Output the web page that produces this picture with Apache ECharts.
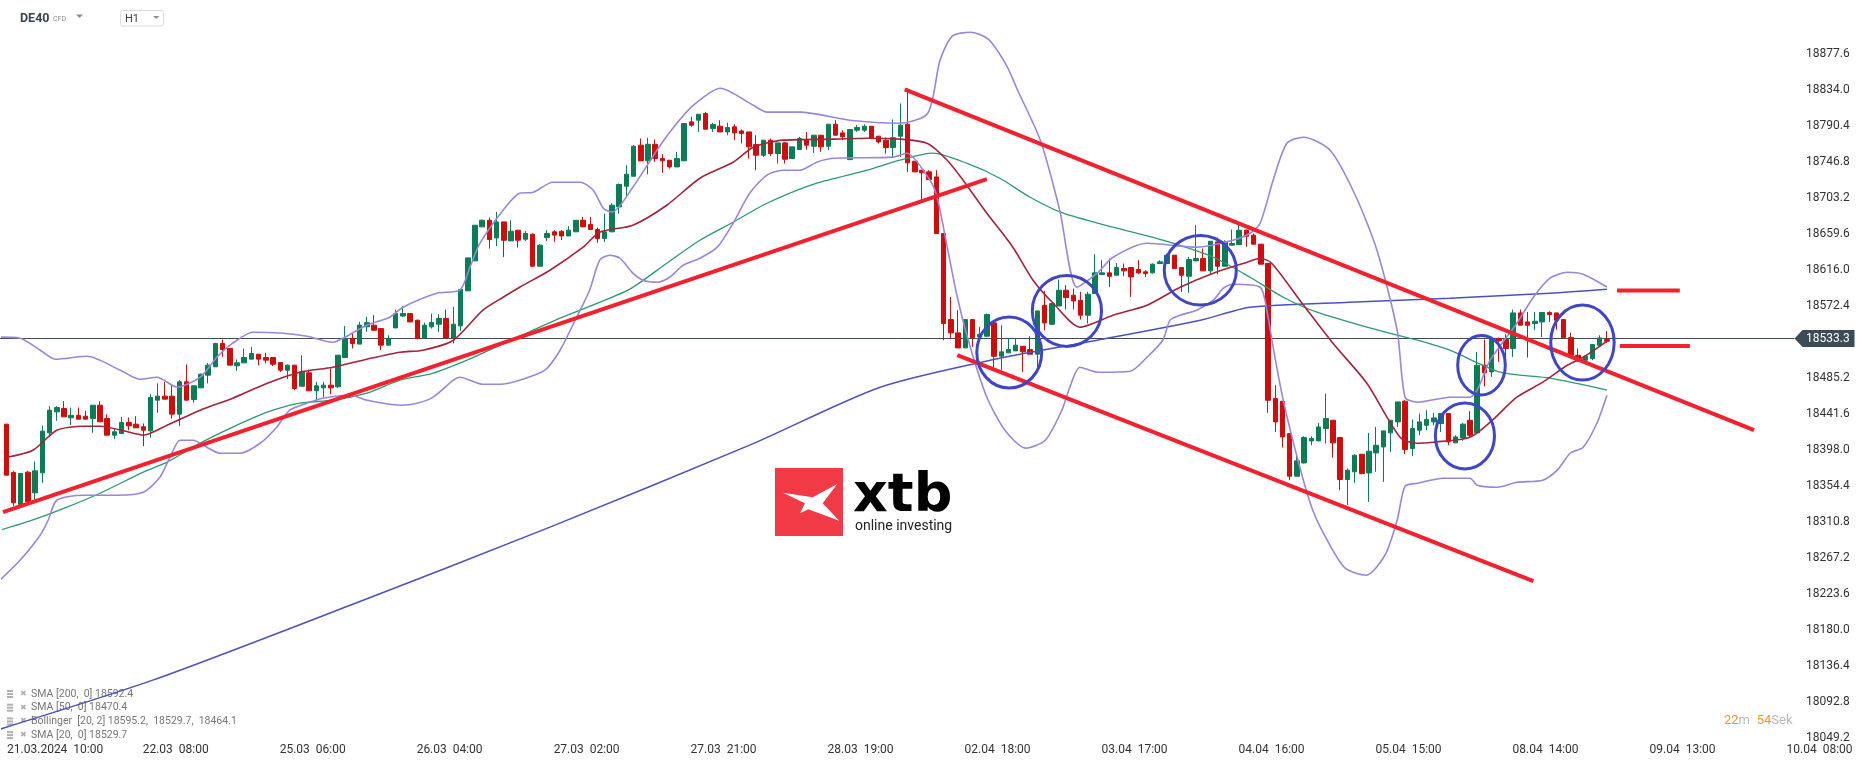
<!DOCTYPE html>
<html><head><meta charset="utf-8">
<script src="https://cdn.jsdelivr.net/npm/echarts@6/dist/echarts.min.js"></script>
<style>html,body{margin:0;padding:0;background:#fff;overflow:hidden}#c{width:1866px;height:767px}</style>
</head><body><div id="c"></div>
<script>
// ---- DATA ----
// hourly candles: [open, close, low, high]
const ohlc = [
[18429.0,18367.3,18367.0,18429.5],[18370.5,18333.8,18330.1,18372.5],[18331.8,18369.3,18331.0,18370.0],[18370.9,18335.0,18333.0,18372.5],
[18345.9,18372.5,18335.0,18383.8],[18370.1,18420.6,18358.0,18427.4],[18418.5,18446.0,18415.7,18450.8],[18444.0,18449.2,18433.1,18450.8],
[18448.0,18437.9,18437.9,18456.9],[18436.7,18439.7,18427.8,18449.2],[18439.7,18435.1,18435.0,18449.2],[18438.7,18435.1,18435.0,18445.2],
[18435.9,18452.0,18418.6,18452.0],[18452.0,18431.9,18431.9,18456.9],[18435.9,18415.7,18415.7,18440.8],[18415.7,18419.8,18410.9,18423.0],
[18417.7,18431.1,18417.7,18437.9],[18431.1,18427.0,18421.8,18437.1],[18429.0,18424.6,18424.6,18438.7],[18425.8,18421.8,18402.4,18429.9],
[18421.0,18461.3,18412.9,18465.4],[18458.1,18463.0,18442.8,18478.3],[18463.0,18459.3,18459.3,18480.3],[18463.0,18441.2,18435.9,18476.3],
[18441.2,18480.3,18426.6,18482.3],[18480.3,18458.1,18458.1,18501.3],[18458.9,18475.5,18454.9,18475.5],[18473.0,18489.6,18473.0,18490.4],
[18488.4,18500.5,18478.3,18503.3],[18498.5,18526.7,18498.5,18527.5],[18526.7,18519.5,18510.6,18531.6],[18520.7,18500.5,18500.5,18520.7],
[18499.7,18503.3,18493.6,18507.4],[18503.3,18509.8,18503.3,18520.7],[18507.8,18514.6,18507.8,18522.7],[18513.8,18507.8,18500.5,18513.8],
[18509.8,18506.6,18502.5,18515.4],[18509.8,18501.7,18499.3,18509.8],[18503.7,18494.4,18492.4,18503.7],[18494.4,18500.5,18483.5,18501.3],
[18500.5,18472.2,18470.2,18500.5],[18475.0,18492.4,18475.0,18512.6],[18491.2,18469.4,18469.4,18495.2],[18469.4,18475.5,18457.3,18480.3],
[18473.0,18476.3,18461.3,18480.3],[18476.3,18473.0,18465.4,18496.5],[18474.3,18512.6,18473.0,18512.6],[18509.8,18532.8,18509.8,18548.0],
[18532.8,18526.7,18520.7,18538.9],[18526.0,18549.0,18526.0,18553.0],[18547.0,18552.0,18541.0,18559.0],[18548.9,18542.8,18542.0,18561.0],
[18544.8,18524.7,18518.6,18545.0],[18524.7,18532.7,18524.7,18536.7],[18545.6,18563.0,18545.6,18567.8],[18560.0,18563.0,18559.0,18571.9],
[18563.0,18552.9,18552.9,18563.8],[18554.9,18532.7,18532.7,18555.7],[18533.5,18548.9,18533.5,18552.1],[18546.9,18552.1,18544.8,18562.9],
[18550.1,18557.0,18540.8,18562.2],[18557.0,18533.5,18533.5,18567.8],[18533.5,18550.1,18526.7,18571.1],[18548.1,18592.1,18542.0,18592.1],
[18590.5,18630.4,18590.5,18630.4],[18626.8,18670.0,18626.8,18670.0],[18668.0,18676.0,18668.0,18676.8],[18676.0,18652.6,18641.7,18679.3],
[18654.6,18674.0,18644.6,18686.1],[18674.0,18651.8,18631.6,18674.0],[18651.0,18662.7,18651.0,18676.0],[18663.9,18651.8,18642.9,18664.5],
[18653.0,18660.0,18650.7,18663.0],[18659.1,18620.4,18619.6,18659.9],[18620.4,18645.8,18620.4,18647.0],[18655.0,18660.0,18651.0,18664.0],
[18662.0,18658.0,18650.0,18664.0],[18662.7,18657.0,18652.0,18663.9],[18657.0,18664.0,18657.0,18668.8],[18662.0,18676.0,18662.0,18676.0],
[18676.0,18668.0,18668.0,18680.0],[18671.0,18664.8,18664.8,18680.0],[18664.8,18653.8,18648.6,18667.0],[18653.8,18662.0,18649.8,18684.0],
[18662.0,18694.2,18662.0,18697.0],[18692.2,18719.3,18684.0,18720.5],[18717.2,18731.8,18703.5,18742.7],[18729.3,18765.7,18729.3,18766.9],
[18766.9,18747.9,18747.9,18775.0],[18748.0,18768.0,18731.8,18776.0],[18768.0,18750.7,18746.7,18773.8],[18750.7,18748.0,18733.4,18756.0],
[18748.7,18740.6,18738.6,18748.7],[18740.6,18750.7,18740.6,18758.8],[18748.0,18793.1,18748.0,18793.1],[18795.1,18791.1,18789.1,18801.2],
[18797.2,18804.4,18783.0,18804.4],[18805.2,18786.3,18786.3,18807.3],[18787.1,18791.9,18783.0,18794.0],[18789.9,18783.0,18783.0,18797.2],
[18783.0,18788.3,18779.0,18794.3],[18789.1,18781.8,18773.0,18792.3],[18784.2,18781.0,18769.0,18785.9],[18783.0,18764.9,18750.7,18783.0],
[18767.7,18754.8,18736.6,18779.0],[18754.8,18773.0,18752.8,18773.0],[18773.0,18756.8,18753.6,18775.0],[18756.8,18769.7,18744.7,18769.7],
[18769.7,18749.9,18744.7,18770.9],[18750.7,18764.9,18750.7,18764.9],[18761.6,18775.0,18761.6,18777.0],[18773.8,18766.9,18761.6,18783.0],
[18765.7,18779.0,18757.6,18779.0],[18779.0,18764.9,18758.8,18779.0],[18765.7,18792.3,18760.8,18792.3],[18792.3,18779.0,18779.0,18797.2],
[18781.8,18777.0,18773.0,18785.0],[18749.5,18785.9,18748.7,18785.9],[18785.1,18788.3,18783.0,18791.1],[18785.1,18789.9,18783.0,18792.3],
[18789.9,18775.0,18775.0,18789.9],[18777.8,18770.9,18768.9,18777.8],[18773.0,18764.0,18756.8,18776.0],[18764.0,18776.0,18752.0,18798.0],
[18777.8,18791.1,18752.8,18817.4],[18792.3,18745.5,18734.6,18835.6],[18747.5,18734.6,18734.6,18747.5],[18736.6,18733.4,18700.3,18736.6],
[18734.6,18725.3,18725.3,18736.6],[18728.5,18659.9,18659.9,18736.6],[18659.9,18550.9,18530.7,18659.9],[18555.7,18539.6,18532.7,18583.2],
[18539.6,18521.4,18521.4,18567.0],[18521.4,18555.7,18521.4,18555.7],[18555.7,18533.9,18522.6,18555.7],[18534.7,18537.9,18534.7,18546.9],
[18535.5,18561.8,18535.5,18563.0],[18551.7,18511.3,18497.6,18551.7],[18511.3,18516.6,18494.4,18548.9],[18515.4,18519.4,18515.4,18532.7],
[18517.8,18524.7,18517.8,18532.7],[18523.4,18516.6,18492.4,18523.4],[18519.4,18513.8,18513.8,18535.5],[18513.8,18566.2,18497.6,18566.2],
[18573.0,18551.7,18542.8,18590.5],[18550.1,18575.1,18549.0,18575.9],[18572.2,18591.3,18572.2,18604.2],[18591.3,18582.4,18567.9,18597.3],
[18585.2,18578.3,18567.9,18593.3],[18579.1,18561.0,18555.7,18589.3],[18561.0,18586.4,18550.9,18589.3],[18587.3,18612.3,18587.3,18634.9],
[18610.2,18612.3,18610.2,18627.6],[18612.3,18608.2,18595.3,18629.6],[18609.4,18618.7,18609.4,18624.4],[18617.5,18614.7,18608.2,18623.6],
[18618.7,18607.4,18583.2,18618.7],[18616.3,18612.3,18610.6,18627.6],[18613.5,18611.4,18607.4,18615.5],[18612.3,18622.8,18611.5,18623.6],
[18623.6,18625.6,18622.8,18627.6],[18623.6,18633.7,18622.8,18635.7],[18633.7,18617.5,18617.5,18633.7],[18618.7,18609.4,18589.3,18618.7],
[18608.2,18628.4,18588.1,18631.6],[18626.8,18629.6,18626.8,18670.0],[18629.6,18614.7,18614.7,18641.7],[18614.7,18650.6,18610.6,18650.6],
[18649.8,18620.3,18610.6,18655.1],[18620.3,18649.8,18620.3,18651.8],[18645.8,18647.8,18645.8,18664.7],[18646.6,18663.9,18646.6,18671.2],
[18663.9,18656.7,18643.8,18664.7],[18657.9,18647.0,18647.0,18659.9],[18647.0,18622.8,18622.8,18647.0],[18623.6,18458.0,18442.7,18623.6],
[18460.0,18431.8,18419.7,18476.2],[18456.8,18413.6,18400.7,18456.8],[18417.7,18366.0,18361.2,18417.7],[18366.0,18384.6,18366.0,18394.2],
[18382.1,18412.8,18381.3,18414.4],[18408.8,18411.6,18403.5,18414.4],[18408.8,18425.7,18408.8,18430.6],[18423.7,18435.8,18405.5,18466.1],
[18433.8,18406.4,18388.6,18433.8],[18412.8,18362.0,18349.0,18412.8],[18362.0,18373.3,18330.9,18375.3],[18371.3,18391.4,18357.9,18392.6],
[18392.6,18369.2,18368.4,18392.6],[18370.0,18396.3,18334.9,18418.5],[18394.2,18403.5,18371.3,18425.7],[18401.5,18420.9,18359.1,18420.9],
[18418.5,18433.8,18395.5,18433.8],[18431.8,18456.0,18425.7,18456.0],[18456.8,18398.3,18392.6,18458.0],[18399.5,18423.7,18390.2,18434.6],
[18421.7,18431.8,18415.6,18441.9],[18427.8,18434.6,18421.7,18445.9],[18431.8,18436.6,18427.8,18442.7],[18429.8,18441.9,18419.7,18441.9],
[18441.9,18407.6,18403.5,18441.9],[18406.4,18413.6,18406.4,18415.6],[18412.8,18429.0,18408.8,18430.6],[18433.8,18415.6,18412.8,18444.7],
[18418.5,18500.4,18418.5,18516.6],[18500.4,18491.1,18475.0,18531.5],[18492.3,18532.7,18486.3,18532.7],[18532.7,18529.9,18504.5,18533.9],
[18531.5,18520.6,18506.5,18537.9],[18520.6,18563.8,18510.5,18567.8],[18563.8,18548.9,18548.9,18567.8],[18552.9,18548.9,18509.7,18565.0],
[18550.9,18553.7,18542.8,18565.0],[18552.9,18564.2,18534.7,18565.0],[18564.2,18561.8,18552.9,18565.8],[18563.8,18554.9,18543.6,18563.8],
[18555.7,18533.9,18532.7,18555.7],[18533.9,18512.5,18511.3,18539.6],[18512.5,18506.5,18504.5,18520.6],[18506.5,18511.3,18505.7,18512.5],
[18508.5,18525.4,18506.5,18525.4],[18524.6,18533.5,18522.6,18536.7],[18531.5,18529.5,18527.5,18541.6]
];
const futureSlots = 33;
const tickLabels = ['21.03.2024  10:00','22.03  08:00','25.03  06:00','26.03  04:00','27.03  02:00','27.03  21:00','28.03  19:00',
  '02.04  18:00','03.04  17:00','04.04  16:00','05.04  15:00','08.04  14:00','09.04  13:00','10.04  08:00'];
const firstTick = 4, tickEvery = 19;
const priceTicks = {min: 18049.2, step: 43.6, count: 20};
const lastPrice = 18533.3;

// indicators: [candle index, value]
const sma200 = [[-0.9,18059.6],[20.3,18119.0],[47.7,18209.8],[75.4,18304.3],[103.1,18403.6],[121.2,18473.8],[137.8,18508.9],
  [151.3,18530.7],[165.6,18554.9],[172.5,18570.7],[186.3,18576.7],[200.2,18581.6],[214.1,18587.6],[222,18592.4]];
const sma50 = [[-0.9,18300.6],[3.6,18312.7],[8.4,18328.5],[13.0,18345.4],[19.0,18370.9],[22.3,18383.0],[26.9,18406.0],[31.4,18425.4],
  [36.2,18443.5],[40.7,18454.4],[45.3,18458.1],[50.0,18466.5],[54.6,18482.3],[59.2,18490.8],[63.9,18506.5],[68.5,18524.7],[76.8,18557.4],
  [86.2,18591.3],[91.6,18624.0],[96.2,18651.8],[100.8,18673.6],[105.5,18696.6],[112.4,18720.9],[119.4,18736.6],[123.9,18748.7],
  [128.5,18757.2],[133.2,18745.1],[137.8,18726.9],[142.0,18703.9],[146.6,18684.5],[153.5,18667.6],[160.4,18651.8],[167.4,18631.2],
  [172.5,18607.0],[177.1,18582.8],[181.8,18564.6],[188.7,18546.5],[195.7,18530.7],[200.2,18518.6],[207.2,18492.0],[214.1,18484.7],[222,18470.4]];
const sma20 = [[0.1,18389.0],[3.7,18397.5],[7.0,18421.7],[10.6,18426.6],[13.0,18426.6],[17.6,18418.1],[19.0,18415.7],[22.3,18427.8],
  [26.9,18446.0],[31.4,18460.5],[36.2,18478.6],[40.7,18492.0],[45.3,18498.0],[50.0,18507.7],[54.6,18516.2],[57.8,18518.6],[62.0,18530.7],
  [66.1,18567.1],[68.9,18582.8],[71.2,18594.9],[75.4,18615.5],[80.0,18643.4],[82.3,18661.5],[86.9,18670.0],[91.6,18694.2],[96.2,18726.9],
  [100.8,18746.3],[103.6,18764.5],[107.7,18773.0],[114.7,18774.2],[119.4,18775.4],[123.9,18774.2],[127.7,18769.3],[130.5,18748.7],
  [132.7,18724.5],[136.0,18684.5],[139.6,18643.4],[142.4,18603.4],[145.2,18575.5],[148.9,18546.5],[153.5,18561.0],[158.2,18573.1],
  [162.8,18594.9],[167.4,18611.9],[172.1,18625.2],[173.9,18630.0],[175.5,18624.0],[179.4,18579.2],[184.0,18527.1],[188.7,18478.6],
  [193.3,18413.3],[195.7,18406.0],[197.9,18407.2],[203.0,18413.3],[205.8,18431.4],[209.5,18461.7],[213.1,18479.9],[216.5,18500.4],
  [218.7,18510.1],[222,18529.7]];
const bollUpper = [[-0.9,18534.4],[1.9,18533.2],[4.7,18518.6],[6.8,18507.7],[11.2,18511.3],[15.8,18494.4],[18.5,18483.5],[20.9,18485.9],
  [23.7,18473.8],[26.9,18485.9],[29.2,18510.1],[31.4,18527.1],[34.2,18540.4],[38.4,18539.2],[41.7,18535.6],[45.3,18528.3],[46.7,18533.2],
  [50.0,18548.9],[53.2,18558.6],[55.0,18570.7],[59.7,18587.7],[62.9,18591.3],[64.3,18619.1],[65.7,18648.2],[68.9,18688.2],[71.2,18708.8],
  [73.1,18710.0],[75.8,18722.1],[79.6,18722.1],[81.4,18712.4],[82.8,18690.6],[84.0,18685.8],[86.9,18716.0],[90.7,18766.9],[93.0,18793.5],
  [95.3,18815.3],[99.0,18835.9],[103.6,18815.3],[105.5,18806.9],[110.1,18806.9],[117.0,18797.2],[123.9,18793.5],[127.8,18805.6],
  [129.5,18869.8],[131.2,18898.9],[133.7,18903.7],[136.2,18895.3],[138.7,18863.8],[140.2,18834.7],[143.4,18773.1],[146.1,18688.2],
  [148.5,18594.9],[151.3,18611.9],[153.5,18631.2],[158.2,18648.2],[165.1,18643.4],[170.1,18651.8],[172.5,18660.3],[173.9,18672.4],
  [175.7,18724.5],[177.6,18769.3],[179.9,18776.6],[183.6,18760.8],[187.1,18706.3],[190.1,18639.7],[192.9,18542.9],[194.0,18461.7],
  [195.7,18455.6],[200.2,18461.7],[203.0,18461.7],[204.0,18470.2],[205.8,18506.5],[209.5,18551.3],[211.8,18582.8],[214.1,18605.8],
  [216.5,18613.1],[218.7,18610.7],[222,18595.2]];
const bollLower = [[-0.9,18240.1],[1.9,18264.3],[4.7,18294.6],[5.8,18312.7],[7.0,18336.9],[10.6,18343.0],[15.4,18343.0],[19.0,18346.6],
  [21.3,18364.8],[22.7,18389.0],[24.1,18409.6],[25.9,18409.6],[27.8,18401.1],[29.6,18393.8],[32.4,18393.8],[35.2,18405.9],[37.5,18425.4],
  [39.3,18446.0],[41.7,18454.4],[43.9,18460.5],[47.7,18464.1],[50.0,18458.1],[54.6,18452.0],[57.0,18454.4],[59.2,18461.7],[62.0,18482.3],
  [62.9,18485.9],[66.1,18477.4],[68.5,18477.4],[71.2,18482.3],[74.7,18494.4],[76.8,18518.6],[78.9,18555.0],[80.9,18591.3],[82.3,18627.6],
  [83.7,18633.7],[85.1,18630.0],[86.9,18611.9],[88.3,18603.4],[90.3,18601.0],[92.0,18607.0],[93.9,18621.6],[96.2,18630.0],[98.6,18643.4],
  [100.8,18672.4],[103.1,18708.8],[105.5,18730.6],[107.7,18736.6],[110.1,18736.6],[112.4,18746.3],[114.7,18751.1],[123.0,18752.4],
  [124.9,18757.2],[128.1,18724.5],[129.1,18703.9],[130.5,18643.4],[131.9,18582.8],[133.7,18522.3],[136.0,18461.7],[138.5,18421.7],
  [141.4,18400.0],[144.1,18409.6],[146.4,18446.0],[147.5,18473.8],[148.9,18498.0],[151.3,18492.0],[155.9,18493.2],[158.2,18510.1],
  [160.4,18530.7],[161.4,18555.0],[162.8,18561.0],[165.1,18567.1],[167.4,18579.2],[168.8,18593.7],[170.1,18598.5],[173.9,18594.9],
  [174.9,18563.4],[175.7,18522.3],[177.1,18458.1],[179.4,18376.9],[181.2,18324.8],[183.2,18288.5],[185.7,18254.6],[188.6,18246.1],
  [191.2,18270.3],[192.9,18312.7],[194.0,18353.9],[195.7,18357.5],[199.3,18363.6],[203.0,18363.6],[204.0,18355.1],[206.8,18352.7],
  [209.5,18358.7],[213.1,18361.2],[215.1,18373.3],[216.9,18393.8],[218.7,18401.1],[220.6,18430.2],[222,18464.1]];
// hand-drawn analysis: trend lines [[i1,p1],[i2,p2]], circles [i, p, rx(index), ry(price)]
const trendLines = [
  [[-0.46,18322.4],[136.0,18725.7]],
  [[124.6,18834.4],[242.4,18421.7]],
  [[131.9,18512.6],[211.8,18238.9]],
  [[223.4,18590.9],[232.1,18590.9]],
  [[223.8,18523.8],[233.5,18523.8]]
];
const circles = [
  [139.1,18515.8,4.5,43.0],[147.1,18566.2,4.8,43.0],[165.6,18615.5,5.0,42.0],
  [204.6,18500.5,3.3,36.0],[202.3,18414.8,4.1,40.0],[218.6,18527.9,4.4,45.5]
];
const legendRows = [
  'SMA [200,  0] ' + sma200[sma200.length-1][1].toFixed(1),
  'SMA [50,  0] ' + sma50[sma50.length-1][1].toFixed(1),
  'Bollinger  [20, 2] ' + bollUpper[bollUpper.length-1][1].toFixed(1) + ',  ' + sma20[sma20.length-1][1].toFixed(1) + ',  ' + bollLower[bollLower.length-1][1].toFixed(1),
  'SMA [20,  0] ' + sma20[sma20.length-1][1].toFixed(1)
];

// ---- CHART ----
const N = ohlc.length + futureSlots;
const categories = [];
for (let i = 0; i < N; i++) categories.push('');
tickLabels.forEach((t, k) => { categories[firstTick + k * tickEvery] = t; });
const topTick = priceTicks.min + (priceTicks.count - 1) * priceTicks.step;

const FONT = 'Roboto';
const chart = echarts.init(document.getElementById('c'), null, {renderer: 'canvas'});

const lineSeries = (data, color, width, z) => ({
  type: 'line', xAxisIndex: 1, yAxisIndex: 0, data, symbol: 'none', smooth: 0.25, silent: true, z,
  lineStyle: {color, width}, animation: false
});

const series = [
  {
    type: 'candlestick', xAxisIndex: 0, yAxisIndex: 0, data: ohlc, barWidth: 5, z: 3, silent: true,
    itemStyle: {color: '#0a7d55', color0: '#d20b0b', borderColor: '#0a7d55', borderColor0: '#d20b0b', borderWidth: 1}
  },
  {
    type: 'custom', xAxisIndex: 1, yAxisIndex: 0, data: [[0, lastPrice]], z: 2, silent: true,
    renderItem(params, api) {
      const cs = params.coordSys;
      const y = Math.round(api.coord([0, api.value(1)])[1]) + 0.5;
      const right = cs.x + cs.width;
      const tip = right - 54;
      return {type: 'group', children: [
        {type: 'line', shape: {x1: 0, y1: y, x2: tip, y2: y}, style: {stroke: '#3b4c57', lineWidth: 1}},
        {type: 'polygon', shape: {points: [[tip, y], [tip + 8, y - 8.5], [tip + 60, y - 8.5], [tip + 60, y + 8.5], [tip + 8, y + 8.5]]}, style: {fill: '#3b4c57'}},
        {type: 'text', style: {text: api.value(1).toFixed(1), x: right - 42.5, y: y, fill: '#ffffff', fontSize: 12, fontFamily: FONT, align: 'left', verticalAlign: 'middle'}}
      ]};
    }
  },
  lineSeries(sma200, '#4c51c0', 1.5, 4),
  lineSeries(sma50, '#2b9a6c', 1.3, 4),
  lineSeries(bollUpper, '#9b84de', 1.6, 4),
  lineSeries(bollLower, '#9b84de', 1.6, 4),
  lineSeries(sma20, '#a5233a', 1.6, 4),
];
trendLines.forEach(tl => series.push({
  type: 'line', xAxisIndex: 1, yAxisIndex: 0, data: tl, symbol: 'none', silent: true, z: 6, animation: false,
  lineStyle: {color: '#f3202e', width: 4}
}));
series.push({
  type: 'custom', xAxisIndex: 1, yAxisIndex: 0, data: circles, z: 7, silent: true,
  renderItem(params, api) {
    const c = api.coord([api.value(0), api.value(1)]);
    const s = api.size([api.value(2), api.value(3)]);
    return {type: 'ellipse', shape: {cx: c[0], cy: c[1], rx: s[0], ry: s[1]}, style: {fill: 'none', stroke: '#3e45c8', lineWidth: 3}};
  }
});

const graphics = [];
// header
graphics.push({type: 'text', left: 20, top: 12, style: {text: 'DE40', fontSize: 12.5, fontWeight: 'bold', fontFamily: FONT, fill: '#37474f'}});
graphics.push({type: 'text', left: 53, top: 15.5, style: {text: 'CFD', fontSize: 7, fontFamily: FONT, fill: '#8c8c8c'}});
graphics.push({type: 'polygon', shape: {points: [[76, 14.5], [83, 14.5], [79.5, 18]]}, style: {fill: '#8c8c8c'}});
graphics.push({type: 'rect', shape: {x: 120.5, y: 10.5, width: 43, height: 15.5, r: 2}, style: {fill: '#fff', stroke: '#dcdcdc', lineWidth: 1}});
graphics.push({type: 'text', left: 125, top: 14, style: {text: 'H1', fontSize: 11, fontFamily: FONT, fill: '#444'}});
graphics.push({type: 'polygon', shape: {points: [[153, 16], [159.5, 16], [156.25, 19]]}, style: {fill: '#8c8c8c'}});
// logo
graphics.push({type: 'group', z: -1, children: [
  {type: 'rect', shape: {x: 775, y: 468, width: 68, height: 68}, style: {fill: '#f23a47'}},
  {type: 'polygon', shape: {points: [[783, 492.7], [812.7, 497.3], [837.3, 484], [822.7, 503.3], [839.3, 520.7], [808.3, 509.3], [800, 513.3], [805, 503.3]]}, style: {fill: '#ffffff'}},
  {type: 'text', style: {text: 'xtb', x: 853, y: 497, fontSize: 54, fontWeight: 'bold', fontFamily: 'DejaVu Sans', fill: '#000', verticalAlign: 'middle'}},
  {type: 'text', style: {text: 'online investing', x: 855, y: 526, fontSize: 14, fontFamily: FONT, fill: '#222', verticalAlign: 'middle'}}
]});
// legend
legendRows.forEach((t, k) => {
  const y = 694 + k * 13.7;
  graphics.push({type: 'rect', shape: {x: 7, y: y - 4, width: 6, height: 2}, style: {fill: '#b0b0b0'}});
  graphics.push({type: 'rect', shape: {x: 7, y: y - 1, width: 6, height: 2}, style: {fill: '#b0b0b0'}});
  graphics.push({type: 'rect', shape: {x: 7, y: y + 2, width: 6, height: 2}, style: {fill: '#b0b0b0'}});
  graphics.push({type: 'text', style: {text: '\u2716', x: 20, y: y, fontSize: 8, fontFamily: 'DejaVu Sans', fill: '#b0b0b0', verticalAlign: 'middle'}});
  graphics.push({type: 'text', style: {text: t, x: 31, y: y, fontSize: 10.5, fontFamily: FONT, fill: '#777', verticalAlign: 'middle'}});
});
// countdown
graphics.push({type: 'text', style: {text: '{o|22}{g|m}  {o|54}{g|Sek}', x: 1724, y: 721, verticalAlign: 'middle',
  rich: {o: {fill: '#f7941d', fontSize: 13, fontFamily: FONT}, g: {fill: '#b9b9b9', fontSize: 13, fontFamily: FONT}}}});

chart.setOption({
  animation: false,
  backgroundColor: '#ffffff',
  grid: {left: 2.7, right: 17.5, top: 0, bottom: 29.2, containLabel: false, outerBoundsMode: 'none'},
  xAxis: [
    {
      type: 'category', data: categories, boundaryGap: true,
      axisLine: {show: false}, axisTick: {show: false}, splitLine: {show: false},
      axisLabel: {
        interval: 0, margin: 6, color: '#333', fontSize: 12, fontFamily: FONT, padding: [0, 0, 0, 7],
        formatter: (v, idx) => idx === firstTick ? '{f|' + v + '}' : v,
        rich: {f: {padding: [0, 0, 0, 33], color: '#333', fontSize: 12, fontFamily: FONT}}
      }
    },
    {type: 'value', min: -0.5, max: N - 0.5, show: false}
  ],
  yAxis: [{
    type: 'value', position: 'right', scale: true,
    min: priceTicks.min, max: priceTicks.min + 893.55, interval: priceTicks.step,
    axisLine: {show: false}, axisTick: {show: false}, splitLine: {show: false},
    axisLabel: {inside: true, margin: 42.5, align: 'left', color: '#333', fontSize: 12, fontFamily: FONT,
      showMinLabel: true, showMaxLabel: false, formatter: v => v > topTick + 1 ? '' : v.toFixed(1)}
  }],
  series,
  graphic: graphics
});
</script>
</body></html>
